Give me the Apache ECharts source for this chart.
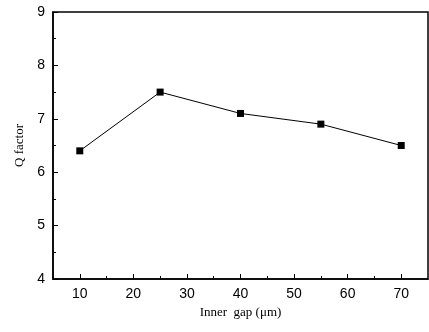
<!DOCTYPE html>
<html>
<head>
<meta charset="utf-8">
<script src="https://cdn.jsdelivr.net/npm/echarts@6/dist/echarts.min.js"></script>
<style>
  html, body { margin: 0; padding: 0; background: #fff; }
  #main { width: 429px; height: 332px; }
</style>
</head>
<body>
<div id="main"></div>
<script>
// data
var gaps = [10, 25, 40, 55, 70];
var qFactor = [6.4, 7.5, 7.1, 6.9, 6.5];
var xLabels = [10, 20, 30, 40, 50, 60, 70];
var xMinor = [15, 25, 35, 45, 55, 65];
var yMinor = [4.5, 5.5, 6.5, 7.5, 8.5];

var myChart = echarts.init(document.getElementById('main'));

var points = gaps.map(function (g, i) { return [g, qFactor[i]]; });

var tickFont = { fontFamily: 'Liberation Sans', fontSize: 14, color: '#000' };
var titleFont = { fontFamily: 'Liberation Serif', fontSize: 13, color: '#000' };

myChart.setOption({
  animation: false,
  backgroundColor: '#fff',
  grid: {
    left: 53, right: 1, top: 12, bottom: 53,
    show: true,
    borderColor: '#000',
    borderWidth: 1.5
  },
  xAxis: [{
    type: 'value',
    min: 5, max: 75,
    name: 'Inner  gap (\u03bcm)',
    nameLocation: 'middle',
    nameGap: 25,
    nameTextStyle: titleFont,
    axisLine: { lineStyle: { color: '#000', width: 1.5 } },
    axisTick: { inside: true, length: 5, customValues: xLabels, lineStyle: { color: '#000' } },
    axisLabel: Object.assign({ customValues: xLabels, margin: 8 }, tickFont),
    splitLine: { show: false }
  }, {
    // short ticks at the half steps
    type: 'value',
    min: 5, max: 75,
    position: 'bottom',
    axisLine: { show: false },
    axisTick: { inside: true, length: 3, customValues: xMinor, lineStyle: { color: '#000' } },
    axisLabel: { show: false },
    splitLine: { show: false }
  }],
  yAxis: [{
    type: 'value',
    min: 4, max: 9, interval: 1,
    name: 'Q factor',
    nameLocation: 'middle',
    nameGap: 27,
    nameTextStyle: titleFont,
    axisLine: { show: true, lineStyle: { color: '#000', width: 1.5 } },
    axisTick: { inside: true, length: 5, lineStyle: { color: '#000' } },
    axisLabel: Object.assign({ margin: 8 }, tickFont),
    splitLine: { show: false }
  }, {
    type: 'value',
    min: 4, max: 9,
    position: 'left',
    axisLine: { show: false },
    axisTick: { inside: true, length: 3, customValues: yMinor, lineStyle: { color: '#000' } },
    axisLabel: { show: false },
    splitLine: { show: false }
  }],
  series: [{
    type: 'line',
    data: points,
    symbol: 'rect',
    symbolSize: 7,
    itemStyle: { color: '#000' },
    lineStyle: { color: '#000', width: 1 }
  }]
});
</script>
</body>
</html>
